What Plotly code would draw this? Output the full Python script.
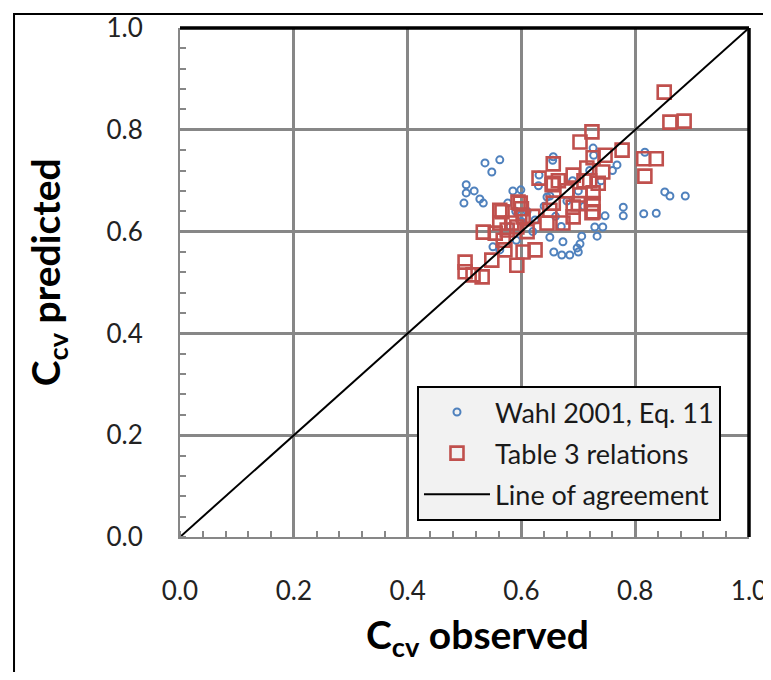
import plotly.graph_objects as go

# Wahl 2001, Eq. 11 (observed, predicted)
wahl_x = [0.536, 0.562, 0.548, 0.503, 0.503, 0.517, 0.527, 0.533, 0.499, 0.585, 0.599, 0.576,
          0.656, 0.726, 0.631, 0.768, 0.817, 0.852, 0.861, 0.888, 0.779, 0.779, 0.815, 0.837,
          0.747, 0.729, 0.743, 0.733, 0.706, 0.703, 0.698, 0.700, 0.685, 0.671, 0.657, 0.673,
          0.650, 0.645, 0.624, 0.591, 0.562, 0.550,
          0.600, 0.610, 0.620, 0.640, 0.660, 0.680, 0.690, 0.700, 0.720, 0.710, 0.670, 0.630,
          0.590, 0.580, 0.650, 0.740, 0.760, 0.727, 0.655]
wahl_y = [0.735, 0.741, 0.717, 0.692, 0.676, 0.680, 0.664, 0.656, 0.656, 0.680, 0.682, 0.656,
          0.747, 0.764, 0.711, 0.731, 0.756, 0.678, 0.670, 0.670, 0.648, 0.631, 0.635, 0.636,
          0.631, 0.609, 0.609, 0.591, 0.591, 0.576, 0.568, 0.560, 0.554, 0.554, 0.560, 0.580,
          0.589, 0.668, 0.623, 0.583, 0.564, 0.570,
          0.620, 0.640, 0.600, 0.650, 0.630, 0.660, 0.700, 0.680, 0.720, 0.650, 0.610, 0.690,
          0.640, 0.610, 0.670, 0.700, 0.720, 0.750, 0.740]

# Table 3 relations (observed, predicted)
t3_x = [0.851, 0.861, 0.886, 0.724, 0.703, 0.777, 0.747, 0.815, 0.837, 0.817, 0.656, 0.631,
        0.726, 0.743, 0.735, 0.691, 0.715, 0.656, 0.726, 0.726,
        0.501, 0.501, 0.531, 0.515, 0.548, 0.533, 0.566, 0.562, 0.575, 0.598, 0.592, 0.603,
        0.571, 0.592, 0.603, 0.624, 0.645, 0.650, 0.673, 0.656, 0.691, 0.691, 0.724, 0.703,
        0.726, 0.583, 0.568, 0.554, 0.562, 0.594, 0.654,
        0.620, 0.600, 0.610, 0.665, 0.680, 0.710, 0.720, 0.700]
t3_y = [0.874, 0.815, 0.817, 0.796, 0.776, 0.760, 0.750, 0.743, 0.743, 0.709, 0.733, 0.705,
        0.745, 0.717, 0.695, 0.711, 0.725, 0.695, 0.655, 0.639,
        0.540, 0.521, 0.511, 0.515, 0.544, 0.599, 0.639, 0.617, 0.603, 0.656, 0.609, 0.629,
        0.564, 0.534, 0.560, 0.564, 0.617, 0.642, 0.617, 0.656, 0.648, 0.629, 0.637, 0.672,
        0.676, 0.617, 0.583, 0.597, 0.642, 0.658, 0.692,
        0.630, 0.645, 0.600, 0.700, 0.680, 0.700, 0.700, 0.655]

# Line of agreement
line_x = [0.0, 1.0]
line_y = [0.0, 1.0]

tick_vals = [0.0, 0.2, 0.4, 0.6, 0.8, 1.0]
tick_text = ["0.0", "0.2", "0.4", "0.6", "0.8", "1.0"]

FONT = "Lato"
GRID = "#878787"

fig = go.Figure()
fig.add_trace(go.Scatter(
    x=wahl_x, y=wahl_y, mode="markers", name="Wahl 2001, Eq. 11",
    legendgroup="a",
    marker=dict(symbol="circle-open", size=7, color="#4f81bd", line=dict(width=2, color="#4f81bd")),
))
fig.add_trace(go.Scatter(
    x=t3_x, y=t3_y, mode="markers", name="Table 3 relations",
    legendgroup="b",
    marker=dict(symbol="square-open", size=13, color="#c0504d", line=dict(width=2.6, color="#c0504d")),
))
fig.add_trace(go.Scatter(
    x=line_x, y=line_y, mode="lines", name="Line of agreement",
    legendgroup="c",
    line=dict(color="black", width=2),
))

axis_common = dict(
    range=[0, 1], tickvals=tick_vals, ticktext=tick_text,
    showgrid=True, gridcolor=GRID, gridwidth=3,
    zeroline=False, showline=True, linecolor=GRID, linewidth=2,
    ticks="", tickfont=dict(family=FONT, size=26, color="#222222"),
    minor=dict(dtick=0.04, ticks="inside", ticklen=6, tickcolor=GRID, tickwidth=2, showgrid=False),
    fixedrange=True, automargin=False,
)

fig.update_layout(
    width=763, height=664,
    margin=dict(l=172, r=22, t=20, b=135),
    paper_bgcolor="white", plot_bgcolor="white",
    xaxis=dict(**axis_common, ticklabelstandoff=30),
    yaxis=dict(**axis_common, ticklabelstandoff=30),
    showlegend=True,
    legend=dict(
        x=0.4165, y=0.2967, xanchor="left", yanchor="top",
        bgcolor="#f2f2f2", bordercolor="black", borderwidth=2,
        font=dict(family=FONT, size=27, color="#1a1a1a"),
        traceorder="grouped", tracegroupgap=3, itemwidth=66,
    ),
    shapes=[
        dict(type="line", xref="paper", yref="paper", x0=0, y0=1, x1=1, y1=1,
             line=dict(color="black", width=3.5), layer="above"),
        dict(type="line", xref="paper", yref="paper", x0=1, y0=0, x1=1, y1=1,
             line=dict(color="black", width=3.5), layer="above"),
        dict(type="rect", xref="paper", yref="paper", x0=-0.2917, y0=-0.32, x1=1.06, y1=1.0275,
             line=dict(color="black", width=2), layer="above"),
    ],
    annotations=[
        dict(text="<b>C<sub>cv</sub> observed</b>", xref="paper", yref="paper",
             x=0.522, y=-0.196, xanchor="center", yanchor="middle", showarrow=False,
             font=dict(family=FONT, size=39, color="black")),
        dict(text="<b>C<sub>cv</sub> predicted</b>", xref="paper", yref="paper",
             x=-0.232, y=0.52, xanchor="center", yanchor="middle", showarrow=False,
             textangle=-90, font=dict(family=FONT, size=39, color="black")),
    ],
)

fig.write_html("out.html")
